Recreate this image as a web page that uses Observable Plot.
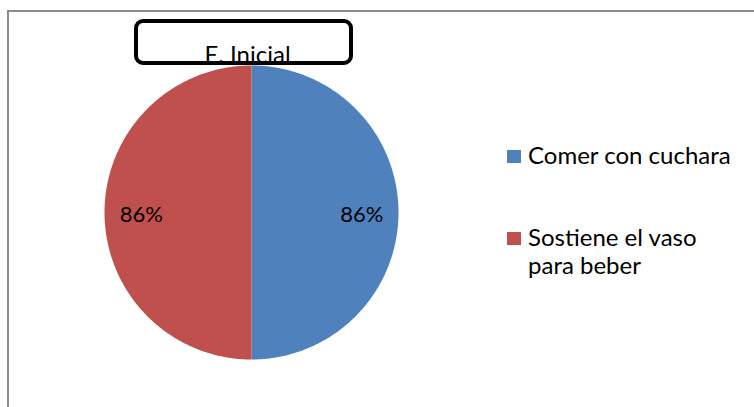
<!DOCTYPE html>
<html>
<head>
<meta charset="utf-8">
<script src="https://cdn.jsdelivr.net/npm/d3@7"></script>
<script src="https://cdn.jsdelivr.net/npm/@observablehq/plot@0.6"></script>
<style>
  body { margin: 0; background: #fff; overflow: hidden; }
  #wrap { position: relative; width: 754px; height: 407px; overflow: hidden; font-family: Lato, "Open Sans", sans-serif; color: #000; }
  #frame { position: absolute; left: 7px; top: 10px; width: 820px; height: 500px; border: 2px solid #8c8c8c; box-sizing: border-box; }
  #chart { position: absolute; left: 0; top: 0; }
  #title { position: absolute; left: 134px; top: 19px; width: 219px; height: 46px; border: 4px solid #000; border-radius: 9px; box-sizing: border-box; }
  #title span { position: absolute; left: 8px; right: 0; bottom: -5px; text-align: center; font-size: 24px; line-height: 1; }
  .leg { position: absolute; font-size: 24px; line-height: 28px; white-space: nowrap; }
  .sw { position: absolute; width: 14px; height: 13px; }
</style>
</head>
<body>
<div id="wrap">
  <div id="frame"></div>
  <div id="chart"></div>
  <div id="title"><span id="titleText"></span></div>
  <div id="legend"></div>
</div>
<script>
const title = "E. Inicial";
const categories = ["Comer con cuchara", "Sostiene el vaso para beber"];
const legendLines = [["Comer con cuchara"], ["Sostiene el vaso", "para beber"]];
const values = [86, 86];
const labels = ["86%", "86%"];
const colors = ["#4F81BD", "#C0504D"];

const arcs = d3.pie().sort(null)(values);
const pts = [];
const lbl = [];
arcs.forEach((a, i) => {
  const cat = categories[i];
  pts.push({cat, x: 0, y: 0});
  const n = 180;
  for (let k = 0; k <= n; k++) {
    const t = a.startAngle + (a.endAngle - a.startAngle) * k / n;
    pts.push({cat, x: Math.sin(t), y: Math.cos(t)});
  }
  pts.push({cat, x: 0, y: 0});
  const m = (a.startAngle + a.endAngle) / 2;
  lbl.push({cat, label: labels[i], x: 0.75 * Math.sin(m), y: 0.75 * Math.cos(m)});
});

const plot = Plot.plot({
  width: 754,
  height: 407,
  margin: 0,
  x: {domain: [-1, 1], range: [104, 398], axis: null},
  y: {domain: [-1, 1], range: [359, 65], axis: null},
  color: {domain: categories, range: colors},
  style: {background: "transparent", fontFamily: "Lato, 'Open Sans', sans-serif"},
  marks: [
    Plot.line(pts, {x: "x", y: "y", z: "cat", fill: "cat", stroke: "none"}),
    Plot.text(lbl, {x: "x", y: "y", text: "label", fontSize: 22, fill: "#000", dy: 2})
  ]
});
document.getElementById("chart").appendChild(plot);
document.getElementById("titleText").textContent = title;

const leg = document.getElementById("legend");
const legTops = [147, 229];
legendLines.forEach((lines, i) => {
  const sw = document.createElement("div");
  sw.className = "sw";
  sw.style.left = "507px";
  sw.style.top = (legTops[i] + 3) + "px";
  sw.style.background = colors[i];
  leg.appendChild(sw);
  const t = document.createElement("div");
  t.className = "leg";
  t.style.left = "528px";
  t.style.top = (legTops[i] - 6) + "px";
  t.innerHTML = lines.join("<br>");
  leg.appendChild(t);
});
</script>
</body>
</html>
